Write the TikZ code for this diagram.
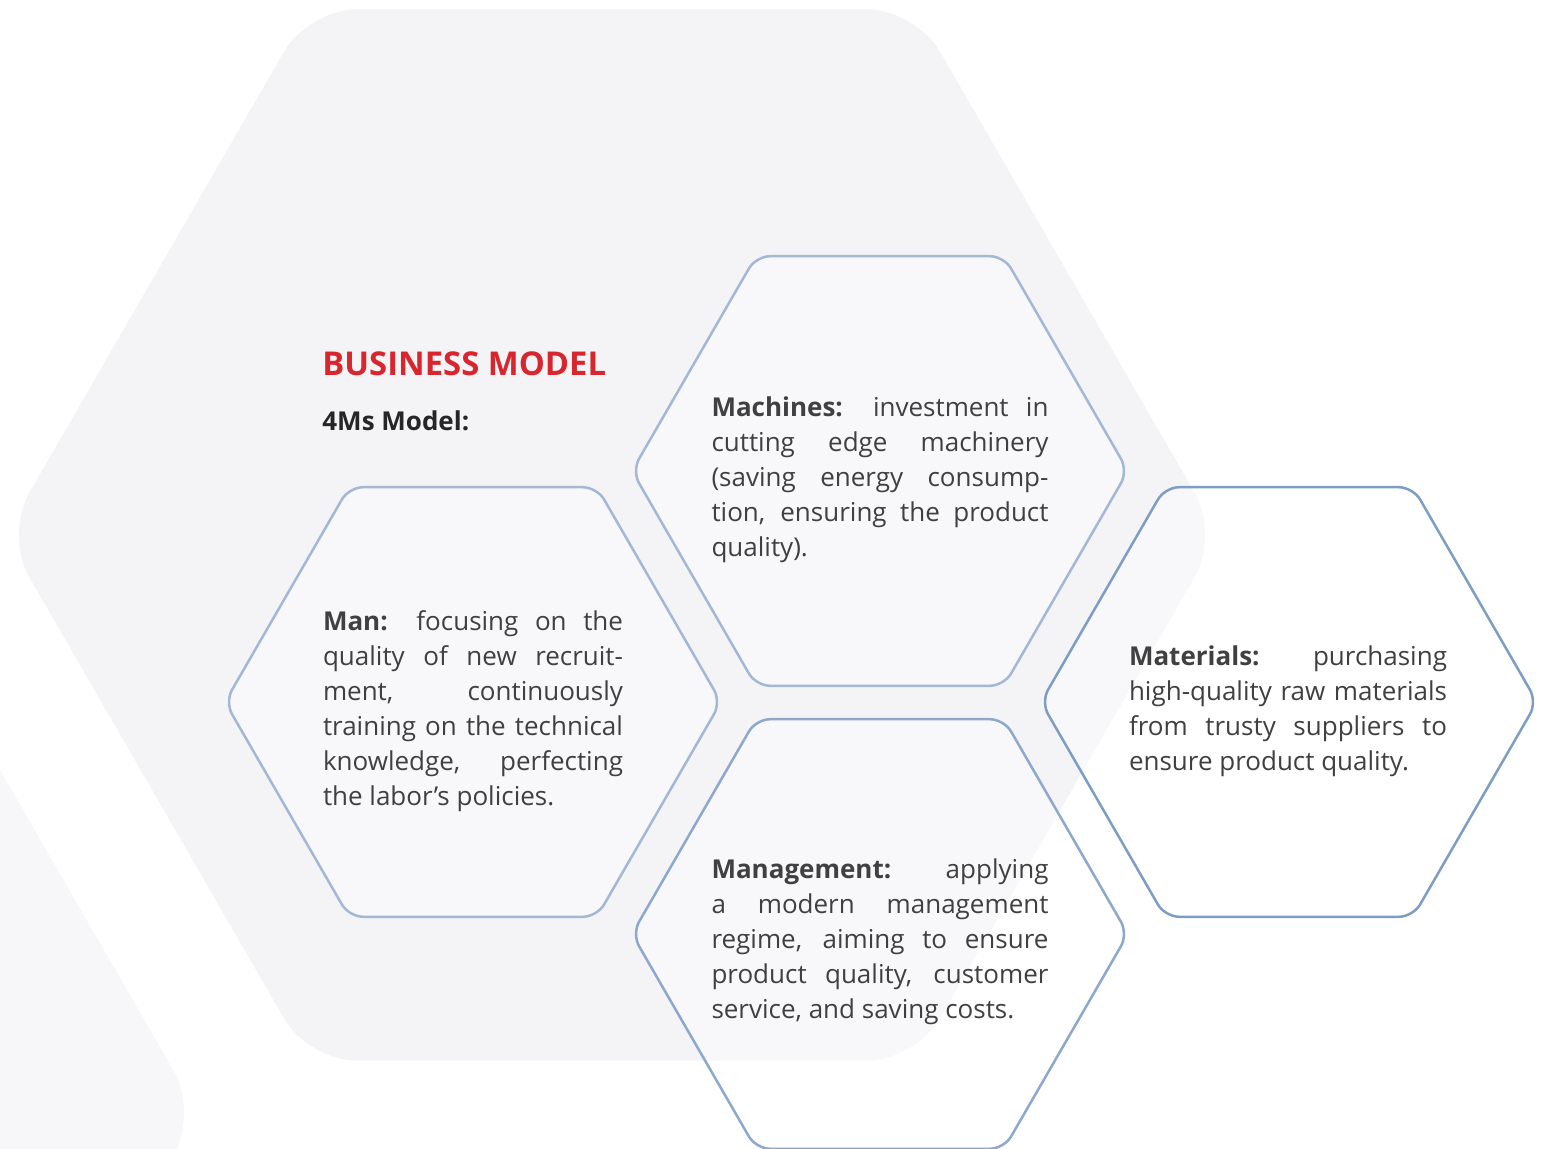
\documentclass[tikz,border=0pt]{standalone}
\usepackage{fontspec}
\setmainfont{Open Sans}
\usepackage{tikz}
\usetikzlibrary{shapes.geometric}
\tolerance=10000
\hbadness=10000
\definecolor{bgshade}{HTML}{F4F4F7}
\definecolor{cornershade}{HTML}{F7F7F9}
\definecolor{edgelight}{HTML}{A3B8D4}
\definecolor{edgemid}{HTML}{8CA8CC}
\definecolor{edgedark}{HTML}{7E9DC4}
\definecolor{titlered}{HTML}{D8262F}
\definecolor{bodygray}{HTML}{404040}
\tikzstyle{hexbase}=[regular polygon, regular polygon sides=6, inner sep=0pt, outer sep=0pt]
\tikzstyle{bighex}=[hexbase, minimum size=607pt, rounded corners=24pt, draw=none]
\tikzstyle{hexcell}=[hexbase, minimum size=248pt, rounded corners=7pt, line width=1.25pt,
                     fill=white, fill opacity=0.45]
\tikzstyle{celltext}=[text=bodygray, align=justify, inner sep=0pt,
                      font=\fontsize{13pt}{17.5pt}\selectfont]

\begin{document}
\begin{tikzpicture}[x=0.5pt, y=-0.5pt]
        \path[use as bounding box, fill=white] (0,0) rectangle (1548,1149);
        \clip (0,0) rectangle (1548,1149);
        % background shapes
        \node[bighex, fill=cornershade] (cornerhex) at (-409,1113) {};
        \node[bighex, fill=bgshade] (backhex) at (612,535) {};
        % the four cells
        \node[hexcell, draw=edgelight] (man) at (473,702) {};
        \node[hexcell, draw=edgelight] (machines) at (880,471) {};
        \node[hexcell, draw=edgemid] (management) at (880,934) {};
        \node[hexcell, draw=edgedark] (materials) at (1289,702) {};
        % heading
        \node[anchor=base west, inner sep=0pt, text=titlered,
              font=\fontsize{16.4pt}{20pt}\selectfont\bfseries] (title) at (322,376) {BUSINESS MODEL};
        \node[anchor=base west, inner sep=0pt, text=black!85,
              font=\fontsize{13pt}{16pt}\selectfont\bfseries] (subtitle) at (322,431) {4Ms Model:};
        % cell texts
        \node[celltext, text width=150pt] (mantext) at (473,711) {%
            \textbf{Man:} focusing on the\linebreak
            quality of new recruit-\linebreak
            ment, continuously\linebreak
            training on the technical\linebreak
            knowledge, perfecting\linebreak
            the labor’s policies.};
        \node[celltext, text width=168.5pt] (machinestext) at (880,480) {%
            \textbf{Machines:} investment in\linebreak
            cutting edge machinery\linebreak
            (saving energy consump-\linebreak
            tion, ensuring the product\linebreak
            quality).};
        \node[celltext, text width=159pt] (materialstext) at (1288,711) {%
            \textbf{Materials:} purchasing\linebreak
            high-quality raw materials\linebreak
            from trusty suppliers to\linebreak
            ensure product quality.};
        \node[celltext, text width=168.5pt] (managementtext) at (880,942) {%
            \textbf{Management:} applying\linebreak
            a modern management\linebreak
            regime, aiming to ensure\linebreak
            product quality, customer\linebreak
            service, and saving costs.};
    \end{tikzpicture}
\end{document}
